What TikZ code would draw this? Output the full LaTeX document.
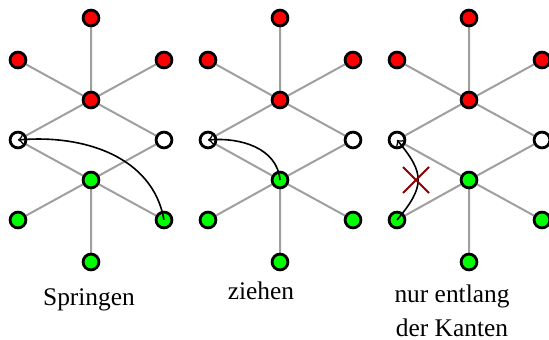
\documentclass[tikz,border=0pt]{standalone}
\usepackage{fontspec}
\setmainfont{Liberation Serif}
\usepackage{tikz}
\usetikzlibrary {
  backgrounds,
  arrows,
}
\tikzset{
  stone/.style = {
    circle,
    draw = black,
    line width = 1.4pt,
    fill = #1,
    minimum size = 7.9pt,
    inner sep = 0pt
  },
  edge/.style = {
    draw = gray!75,
    line width = 1pt
  },
  move/.style = {
    ->,
    line width = 0.8pt
  },
  cross/.style = {
    line width = 1pt,
    color = red!55!black
  },
  caption/.style = {
    anchor = base,
    align = center,
    font = \fontsize{12.7}{17}\selectfont
  },
}

\begin{document}
\begin{tikzpicture}[x = 0.5pt, y = 0.5pt]
  \useasboundingbox (0, 0) rectangle (549, 340);
  % Springen
  \node[stone = red]   (T1)  at (91, 322) {};
  \node[stone = red]   (A1)  at (18, 280) {};
  \node[stone = red]   (B1)  at (164, 280) {};
  \node[stone = red]   (R1)  at (91, 240) {};
  \node[stone = white] (WL1) at (18, 200) {};
  \node[stone = white] (WR1) at (164, 200) {};
  \node[stone = green] (G1)  at (91, 160) {};
  \node[stone = green] (GL1) at (18, 120) {};
  \node[stone = green] (GR1) at (164, 120) {};
  \node[stone = green] (U1)  at (91, 78) {};
  % ziehen
  \node[stone = red]   (T2)  at (280, 322) {};
  \node[stone = red]   (A2)  at (208, 280) {};
  \node[stone = red]   (B2)  at (353, 280) {};
  \node[stone = red]   (R2)  at (280, 240) {};
  \node[stone = white] (WL2) at (208, 200) {};
  \node[stone = white] (WR2) at (353, 200) {};
  \node[stone = green] (G2)  at (280, 160) {};
  \node[stone = green] (GL2) at (208, 120) {};
  \node[stone = green] (GR2) at (353, 120) {};
  \node[stone = green] (U2)  at (280, 78) {};
  % nur entlang der Kanten
  \node[stone = red]   (T3)  at (469, 322) {};
  \node[stone = red]   (A3)  at (397, 280) {};
  \node[stone = red]   (B3)  at (542, 280) {};
  \node[stone = red]   (R3)  at (469, 240) {};
  \node[stone = white] (WL3) at (397, 200) {};
  \node[stone = white] (WR3) at (542, 200) {};
  \node[stone = green] (G3)  at (469, 160) {};
  \node[stone = green] (GL3) at (397, 120) {};
  \node[stone = green] (GR3) at (542, 120) {};
  \node[stone = green] (U3)  at (469, 78) {};
  \begin{scope}[on background layer]
    \foreach \i in {1, 2, 3} {
      \draw[edge] (T\i.center) -- (R\i.center) -- (WL\i.center) -- (G\i.center)
        -- (U\i.center);
      \draw[edge] (A\i.center) -- (R\i.center) -- (B\i.center);
      \draw[edge] (R\i.center) -- (WR\i.center) -- (G\i.center);
      \draw[edge] (GL\i.center) -- (G\i.center) -- (GR\i.center);
    }
  \end{scope}
  \draw[move] (GR1.center) to[out = 100, in = 5] (WL1.center);
  \draw[move] (G2.center) to[out = 95, in = 5] (WL2.center);
  \draw[move] (GL3.center) to[out = 50, in = -50, looseness = 1.4] (WL3.center);
  \coordinate (X) at (416, 160);
  \draw[cross] ([shift = {(-13, -13)}]X) -- ([shift = {(13, 13)}]X)
    ([shift = {(-13, 13)}]X) -- ([shift = {(13, -13)}]X);
  \node[caption] (S) at (89, 34) {Springen};
  \node[caption] (Z) at (261, 40) {ziehen};
  \node[caption] (K) at (452, 3) {nur entlang\\der Kanten};
\end{tikzpicture}
\end{document}
